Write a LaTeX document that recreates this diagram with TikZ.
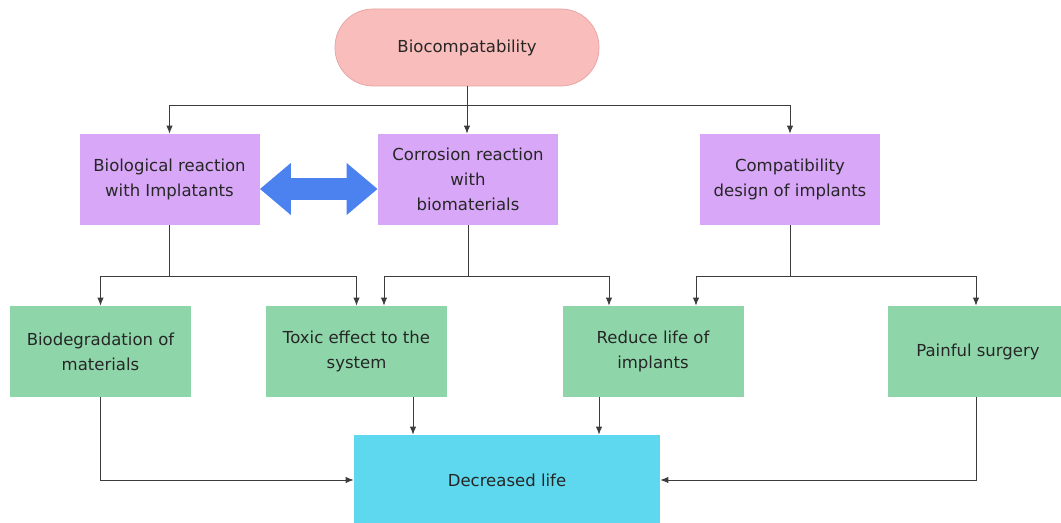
\documentclass[tikz,border=0pt]{standalone}
\usepackage{fontspec}
\setmainfont{DejaVu Sans}
\usetikzlibrary{arrows.meta,positioning}
\definecolor{pillpink}{HTML}{F9BDBC}
\definecolor{pillline}{HTML}{E6A2A2}
\definecolor{lilac}{HTML}{D8A7F7}
\definecolor{mint}{HTML}{8ED6AA}
\definecolor{skyblue}{HTML}{5DD8EE}
\definecolor{arrowblue}{HTML}{4C82F0}
\definecolor{wire}{HTML}{3C3C3C}

\begin{document}
\begin{tikzpicture}[x=1cm,y=1cm,>={Latex[length=4.5pt,width=3.6pt]},
  every node/.style={font=\fontsize{9.4}{14.2}\selectfont,text=black!85,align=center},
  pill/.style={rectangle,rounded corners=0.76cm,fill=pillpink,draw=pillline,minimum width=5.28cm,minimum height=1.54cm},
  causebox/.style={rectangle,fill=lilac,minimum width=3.6cm,minimum height=1.82cm,inner sep=2pt},
  effectbox/.style={rectangle,fill=mint,minimum width=3.62cm,minimum height=1.82cm,inner sep=2pt},
  resultbox/.style={rectangle,fill=skyblue,minimum width=6.12cm,minimum height=1.8cm},
  wire/.style={draw=wire,line width=0.5pt}]
  \useasboundingbox (0,0) rectangle (21.22,10.46);

  \node[pill] (bio) at (9.34,9.51) {Biocompatability};

  \node[causebox] (biol) at (3.39,6.87) {Biological reaction\\with Implatants};
  \node[causebox] (corr) at (9.36,6.87) {Corrosion reaction\\with\\biomaterials};
  \node[causebox] (compat) at (15.8,6.87) {Compatibility\\design of implants};

  \node[effectbox] (biodeg) at (2.01,3.43) {Biodegradation of\\materials};
  \node[effectbox] (toxic) at (7.13,3.43) {Toxic effect to the\\system};
  \node[effectbox] (reduce) at (13.06,3.43) {Reduce life of\\implants};
  \node[effectbox] (painful) at (19.56,3.43) {Painful surgery};

  \node[resultbox] (dec) at (10.14,0.86) {Decreased life};

  \draw[arrowblue,line width=0.44cm,{Triangle[length=0.62cm,width=1cm]}-{Triangle[length=0.62cm,width=1cm]}]
    ([yshift=-0.19cm]biol.east) -- ([yshift=-0.19cm]corr.west);

  \coordinate (j0) at (9.34,8.36);
  \draw[wire,->] (bio.south) -- (bio.south |- corr.north);
  \draw[wire,->] (j0) -| (biol.north);
  \draw[wire,->] (j0) -| (compat.north);

  \coordinate (j1) at (3.39,4.94);
  \coordinate (j2) at (9.36,4.94);
  \coordinate (j3) at (15.8,4.94);
  \draw[wire] (biol.south) -- (j1);
  \draw[wire] (corr.south) -- (j2);
  \draw[wire] (compat.south) -- (j3);
  \draw[wire,->] (j1) -| (biodeg.north);
  \draw[wire,->] (j1) -| (toxic.north);
  \draw[wire,->] (j2) -| ([xshift=0.55cm]toxic.north);
  \draw[wire,->] (j2) -| ([xshift=-0.88cm]reduce.north);
  \draw[wire,->] (j3) -| ([xshift=0.86cm]reduce.north);
  \draw[wire,->] (j3) -| ([xshift=-0.04cm]painful.north);

  \draw[wire,->] ([xshift=1.13cm]toxic.south) -- ([xshift=1.13cm]toxic.south |- dec.north);
  \draw[wire,->] ([xshift=-1.08cm]reduce.south) -- ([xshift=-1.08cm]reduce.south |- dec.north);
  \draw[wire,->] (biodeg.south) |- (dec.west);
  \draw[wire,->] ([xshift=-0.04cm]painful.south) |- (dec.east);
\end{tikzpicture}
\end{document}
